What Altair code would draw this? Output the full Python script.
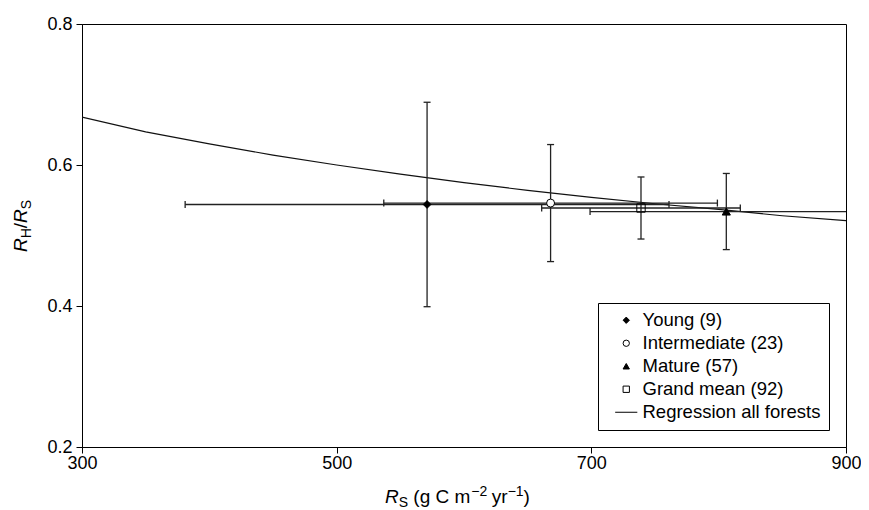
import altair as alt
import pandas as pd

FONT = "Liberation Sans"

# ---- data ----
groups = ["Young (9)", "Intermediate (23)", "Mature (57)", "Grand mean (92)"]
rs_mean = [571, 668, 806, 739]          # R_S (g C m-2 yr-1)
rs_sd = [190, 131, 107, 78]
ratio_mean = [0.544, 0.546, 0.534, 0.539]  # R_H / R_S
ratio_sd = [0.145, 0.083, 0.054, 0.044]

reg_label = "Regression all forests"
reg_rs = [300, 350, 400, 450, 500, 550, 600, 650, 700, 750, 800, 850, 900]
reg_ratio = [0.668, 0.647, 0.630, 0.614, 0.600, 0.587, 0.575, 0.564, 0.554,
             0.545, 0.537, 0.528, 0.521]

x_ticks = [300, 500, 700, 900]
y_ticks = [0.2, 0.4, 0.6, 0.8]

legend_order = groups + [reg_label]

pts = pd.DataFrame({"group": groups, "rs": rs_mean, "rs_sd": rs_sd,
                    "ratio": ratio_mean, "ratio_sd": ratio_sd})
reg = pd.DataFrame({"rs": reg_rs, "ratio": reg_ratio})

# ---- scales / axes ----
xs = alt.Scale(domain=[300, 900], nice=False, zero=False)
ys = alt.Scale(domain=[0.2, 0.8], nice=False, zero=False)

x_axis = alt.Axis(values=x_ticks, title=None, grid=False, tickSize=6,
                  labelFontSize=18, labelFont=FONT, labelColor="black",
                  tickColor="black", domainColor="black", labelPadding=1,
                  labelFlush=False, tickWidth=1)
y_axis = alt.Axis(values=y_ticks, format=".1f", title=None, grid=False,
                  tickSize=6, labelFontSize=18, labelFont=FONT,
                  labelColor="black", tickColor="black", domainColor="black",
                  labelPadding=4, labelFlush=False, tickWidth=1)


def X(f):
    return alt.X(f"{f}:Q", scale=xs, axis=x_axis, title=None)


def Y(f):
    return alt.Y(f"{f}:Q", scale=ys, axis=y_axis, title=None)


ERR = "#222222"
EW = 1.3

line = alt.Chart(reg).mark_line(color="#111111", strokeWidth=1.2, clip=True).encode(
    x=X("rs"), y=Y("ratio"),
)

base = alt.Chart(pts).transform_calculate(
    x_lo="datum.rs - datum.rs_sd", x_hi="datum.rs + datum.rs_sd",
    y_lo="datum.ratio - datum.ratio_sd", y_hi="datum.ratio + datum.ratio_sd",
)

h_bar = base.mark_rule(color=ERR, strokeWidth=EW, clip=True).encode(
    x=X("x_lo"), x2="x_hi:Q", y=Y("ratio"),
)
v_bar = base.mark_rule(color=ERR, strokeWidth=EW, clip=True).encode(
    x=X("rs"), y=Y("y_lo"), y2="y_hi:Q",
)


def vcap(field):
    return base.mark_tick(orient="vertical", color=ERR, size=7, thickness=EW,
                          opacity=1, clip=True).encode(x=X(field), y=Y("ratio"))


def hcap(field):
    return base.mark_tick(orient="horizontal", color=ERR, size=7, thickness=EW,
                          opacity=1, clip=True).encode(x=X("rs"), y=Y(field))


leg = alt.Legend(
    title=None, orient="bottom-right", offset=17, padding=8,
    strokeColor="black", fillColor="white", symbolSize=40,
    symbolStrokeWidth=1, symbolOffset=11,
    labelFont=FONT, labelFontSize=18.5, labelColor="black", labelOffset=7,
    rowPadding=4, labelLimit=400,
)

points = alt.Chart(pts).mark_point(filled=True, strokeWidth=1,
                                   opacity=1).encode(
    x=X("rs"), y=Y("ratio"),
    shape=alt.Shape("group:N", scale=alt.Scale(
        domain=legend_order,
        range=["diamond", "circle", "triangle-up", "square", "M-3.5,0L3.5,0"]),
        legend=leg),
    fill=alt.Fill("group:N", scale=alt.Scale(
        domain=legend_order,
        range=["black", "white", "black", "transparent", "transparent"]),
        legend=leg),
    stroke=alt.Stroke("group:N", scale=alt.Scale(
        domain=legend_order,
        range=["black", "black", "black", "black", "black"]),
        legend=leg),
    size=alt.Size("group:N", scale=alt.Scale(
        domain=groups, range=[60, 70, 95, 121]), legend=None),
)

# ---- axis titles with sub/superscripts (real text pieces) ----
one = pd.DataFrame({"k": [0]})


def piece(txt, x, y, size, italic=False, angle=0):
    kw = dict(text=txt, font=FONT, fontSize=size, color="black",
              align="left", baseline="alphabetic")
    if italic:
        kw["fontStyle"] = "italic"
    if angle:
        kw["angle"] = angle
    return alt.Chart(one).mark_text(**kw).encode(x=alt.value(x), y=alt.value(y))


F, S = 19, 14
# x title: R_S (g C m^-2 yr^-1)
xt = []
cx = 303.0
xy, xsub, xsup = 479, 483, 472
xt.append(piece("R", cx, xy, F, italic=True)); cx += 0.722 * F
xt.append(piece("S", cx, xsub, S)); cx += 0.667 * S + 5.3
xt.append(piece("(g C m", cx, xy, F)); cx += 3.0 * F + 1.0
xt.append(piece("\u22122", cx, xsup, S)); cx += 1.14 * S + 4.5
xt.append(piece("yr", cx, xy, F)); cx += 0.833 * F
xt.append(piece("\u22121", cx, xsup, S)); cx += 1.14 * S
xt.append(piece(")", cx, xy, F))

# y title: R_H/R_S (rotated)
yt = []
cy = 228.0
ym, ysb = -55, -51
yt.append(piece("R", ym, cy, F, italic=True, angle=270)); cy -= 0.722 * F
yt.append(piece("H", ysb, cy, S, angle=270)); cy -= 0.722 * S
yt.append(piece("/", ym, cy, F, angle=270)); cy -= 0.278 * F
yt.append(piece("R", ym, cy, F, italic=True, angle=270)); cy -= 0.722 * F
yt.append(piece("S", ysb, cy, S, angle=270))

chart = alt.layer(
    line, h_bar, v_bar, vcap("x_lo"), vcap("x_hi"), hcap("y_lo"), hcap("y_hi"),
    points, *xt, *yt
).properties(
    width=764, height=423, background="white",
    autosize=alt.AutoSizeParams(type="none"),
    padding={"left": 74, "top": 16, "right": 15, "bottom": 63},
).configure_view(stroke="black", strokeWidth=1)

chart.save("out.html", embed_options={"renderer": "svg", "actions": False})
